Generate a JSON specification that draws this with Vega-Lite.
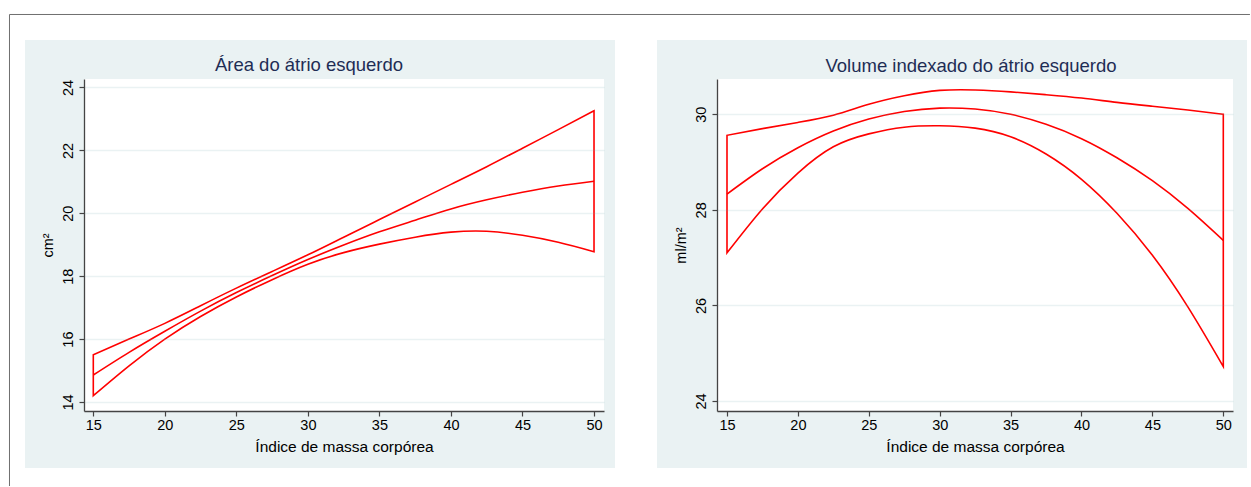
{
  "$schema": "https://vega.github.io/schema/vega-lite/v6.json",
  "padding": {"left": 8, "top": 13, "right": 0, "bottom": 0},
  "background": "white",
  "bounds": "flush",
  "spacing": 113,
  "datasets": {
    "aae": [
      {"imc": 15, "inferior": 14.20, "ajuste": 14.86, "superior": 15.50},
      {"imc": 17.5, "inferior": 15.15, "ajuste": 15.58, "superior": 16.00},
      {"imc": 20, "inferior": 16.00, "ajuste": 16.25, "superior": 16.50},
      {"imc": 22.5, "inferior": 16.72, "ajuste": 16.89, "superior": 17.06},
      {"imc": 25, "inferior": 17.34, "ajuste": 17.48, "superior": 17.62},
      {"imc": 27.5, "inferior": 17.89, "ajuste": 18.02, "superior": 18.15},
      {"imc": 30, "inferior": 18.38, "ajuste": 18.53, "superior": 18.68},
      {"imc": 32.5, "inferior": 18.75, "ajuste": 18.99, "superior": 19.24},
      {"imc": 35, "inferior": 19.02, "ajuste": 19.41, "superior": 19.80},
      {"imc": 37.5, "inferior": 19.24, "ajuste": 19.78, "superior": 20.36},
      {"imc": 40, "inferior": 19.40, "ajuste": 20.14, "superior": 20.92},
      {"imc": 42.5, "inferior": 19.43, "ajuste": 20.43, "superior": 21.48},
      {"imc": 45, "inferior": 19.30, "ajuste": 20.67, "superior": 22.07},
      {"imc": 47.5, "inferior": 19.08, "ajuste": 20.87, "superior": 22.66},
      {"imc": 50, "inferior": 18.78, "ajuste": 21.02, "superior": 23.26}
    ],
    "vie": [
      {"imc": 15, "inferior": 27.10, "ajuste": 28.33, "superior": 29.56},
      {"imc": 17.5, "inferior": 28.02, "ajuste": 28.86, "superior": 29.70},
      {"imc": 20, "inferior": 28.77, "ajuste": 29.30, "superior": 29.83},
      {"imc": 22.5, "inferior": 29.32, "ajuste": 29.65, "superior": 29.98},
      {"imc": 25, "inferior": 29.59, "ajuste": 29.90, "superior": 30.21},
      {"imc": 27.5, "inferior": 29.73, "ajuste": 30.06, "superior": 30.39},
      {"imc": 30, "inferior": 29.76, "ajuste": 30.13, "superior": 30.50},
      {"imc": 32.5, "inferior": 29.71, "ajuste": 30.11, "superior": 30.51},
      {"imc": 35, "inferior": 29.53, "ajuste": 30.00, "superior": 30.47},
      {"imc": 37.5, "inferior": 29.17, "ajuste": 29.79, "superior": 30.41},
      {"imc": 40, "inferior": 28.64, "ajuste": 29.49, "superior": 30.34},
      {"imc": 42.5, "inferior": 27.93, "ajuste": 29.09, "superior": 30.25},
      {"imc": 45, "inferior": 27.05, "ajuste": 28.61, "superior": 30.17},
      {"imc": 47.5, "inferior": 25.97, "ajuste": 28.03, "superior": 30.09},
      {"imc": 50, "inferior": 24.72, "ajuste": 27.36, "superior": 30.00}
    ]
  },
  "hconcat": [
    {
      "width": 520,
      "height": 332,
      "title": {"text": "Área do átrio esquerdo", "dx": -35, "offset": -61},
      "layer": [
        {
          "data": {"values": [{}]},
          "mark": {"type": "rect", "color": "#EAF2F3"},
          "encoding": {
            "x": {"datum": 10.226, "type": "quantitative", "axis": {"zindex": 1, "values": [15, 20, 25, 30, 35, 40, 45, 50], "title": "Índice de massa corpórea", "grid": false}},
            "x2": {"datum": 51.467},
            "y": {"datum": 25.51, "type": "quantitative", "axis": {"zindex": 1, "values": [14, 16, 18, 20, 22, 24], "title": "cm²", "grid": true}},
            "y2": {"datum": 11.902}
          }
        },
        {
          "data": {"values": [{}]},
          "mark": {"type": "rect", "color": "#FFFFFF"},
          "encoding": {
            "x": {"datum": 14.35, "type": "quantitative", "axis": {"zindex": 1, "values": [15, 20, 25, 30, 35, 40, 45, 50], "title": "Índice de massa corpórea", "grid": false}},
            "x2": {"datum": 50.698},
            "y": {"datum": 24.27, "type": "quantitative", "axis": {"zindex": 1, "values": [14, 16, 18, 20, 22, 24], "title": "cm²", "grid": true}},
            "y2": {"datum": 13.714}
          }
        },
        {
          "data": {"values": [{}]},
          "mark": {"type": "rule", "color": "#707070", "strokeWidth": 1},
          "encoding": {
            "x": {"datum": 9.142, "type": "quantitative", "axis": {"zindex": 1, "values": [15, 20, 25, 30, 35, 40, 45, 50], "title": "Índice de massa corpórea", "grid": false}},
            "x2": {"datum": 95.85},
            "y": {"datum": 26.321, "type": "quantitative", "axis": {"zindex": 1, "values": [14, 16, 18, 20, 22, 24], "title": "cm²", "grid": true}}
          }
        },
        {
          "data": {"values": [{}]},
          "mark": {"type": "rule", "color": "#707070", "strokeWidth": 1},
          "encoding": {
            "x": {"datum": 9.142, "type": "quantitative", "axis": {"zindex": 1, "values": [15, 20, 25, 30, 35, 40, 45, 50], "title": "Índice de massa corpórea", "grid": false}},
            "y": {"datum": 26.321, "type": "quantitative", "axis": {"zindex": 1, "values": [14, 16, 18, 20, 22, 24], "title": "cm²", "grid": true}},
            "y2": {"datum": 11.329}
          }
        },
        {
          "data": {"name": "aae"},
          "mark": {"type": "area", "interpolate": "natural", "fillOpacity": 0, "stroke": "#FF0000", "strokeWidth": 1.6, "color": "#FF0000"},
          "encoding": {
            "x": {"field": "imc", "type": "quantitative",
              "scale": {"domain": [14.35, 50.698], "nice": false, "zero": false},
              "axis": {"zindex": 1, "values": [15, 20, 25, 30, 35, 40, 45, 50], "title": "Índice de massa corpórea", "grid": false}},
            "y": {"field": "inferior", "type": "quantitative",
              "scale": {"domain": [13.714, 24.27], "nice": false, "zero": false},
              "axis": {"zindex": 1, "values": [14, 16, 18, 20, 22, 24], "title": "cm²", "grid": true}},
            "y2": {"field": "superior"}
          }
        },
        {
          "data": {"name": "aae"},
          "mark": {"type": "line", "interpolate": "natural", "color": "#FF0000", "strokeWidth": 1.6},
          "encoding": {
            "x": {"field": "imc", "type": "quantitative", "axis": {"zindex": 1, "values": [15, 20, 25, 30, 35, 40, 45, 50], "title": "Índice de massa corpórea", "grid": false}},
            "y": {"field": "ajuste", "type": "quantitative", "axis": {"zindex": 1, "values": [14, 16, 18, 20, 22, 24], "title": "cm²", "grid": true}}
          }
        }
      ]
    },
    {
      "width": 516,
      "height": 332,
      "title": {"text": "Volume indexado do átrio esquerdo", "dx": -4, "offset": -35},
      "layer": [
        {
          "data": {"values": [{}]},
          "mark": {"type": "rect", "color": "#EAF2F3"},
          "encoding": {
            "x": {"datum": 10.064, "type": "quantitative", "axis": {"zindex": 1, "values": [15, 20, 25, 30, 35, 40, 45, 50], "title": "Índice de massa corpórea", "grid": false}},
            "x2": {"datum": 51.671},
            "y": {"datum": 31.555, "type": "quantitative", "axis": {"zindex": 1, "values": [24, 26, 28, 30], "title": "ml/m²", "grid": true}},
            "y2": {"datum": 22.597}
          }
        },
        {
          "data": {"values": [{}]},
          "mark": {"type": "rect", "color": "#FFFFFF"},
          "encoding": {
            "x": {"datum": 14.295, "type": "quantitative", "axis": {"zindex": 1, "values": [15, 20, 25, 30, 35, 40, 45, 50], "title": "Índice de massa corpórea", "grid": false}},
            "x2": {"datum": 50.684},
            "y": {"datum": 30.739, "type": "quantitative", "axis": {"zindex": 1, "values": [24, 26, 28, 30], "title": "ml/m²", "grid": true}},
            "y2": {"datum": 23.79}
          }
        },
        {
          "data": {"name": "vie"},
          "mark": {"type": "area", "interpolate": "natural", "fillOpacity": 0, "stroke": "#FF0000", "strokeWidth": 1.6, "color": "#FF0000"},
          "encoding": {
            "x": {"field": "imc", "type": "quantitative",
              "scale": {"domain": [14.295, 50.684], "nice": false, "zero": false},
              "axis": {"zindex": 1, "values": [15, 20, 25, 30, 35, 40, 45, 50], "title": "Índice de massa corpórea", "grid": false}},
            "y": {"field": "inferior", "type": "quantitative",
              "scale": {"domain": [23.79, 30.739], "nice": false, "zero": false},
              "axis": {"zindex": 1, "values": [24, 26, 28, 30], "title": "ml/m²", "grid": true}},
            "y2": {"field": "superior"}
          }
        },
        {
          "data": {"name": "vie"},
          "mark": {"type": "line", "interpolate": "natural", "color": "#FF0000", "strokeWidth": 1.6},
          "encoding": {
            "x": {"field": "imc", "type": "quantitative", "axis": {"zindex": 1, "values": [15, 20, 25, 30, 35, 40, 45, 50], "title": "Índice de massa corpórea", "grid": false}},
            "y": {"field": "ajuste", "type": "quantitative", "axis": {"zindex": 1, "values": [24, 26, 28, 30], "title": "ml/m²", "grid": true}}
          }
        }
      ]
    }
  ],
  "config": {
    "view": {"stroke": null},
    "axis": {
      "labelFont": "Liberation Sans",
      "titleFont": "Liberation Sans",
      "labelFontSize": 14.5,
      "titleFontSize": 14.5,
      "titleFontWeight": "normal",
      "labelColor": "#000000",
      "titleColor": "#000000",
      "domainColor": "#444444",
      "domainWidth": 1.3,
      "tickColor": "#444444",
      "tickWidth": 1.2,
      "tickSize": 5,
      "gridColor": "#73A8AF",
      "gridOpacity": 0.15,
      "gridWidth": 1.5
    },
    "axisX": {"labelPadding": 2, "titlePadding": 8, "titleFontSize": 15.5, "labelFlush": false},
    "axisY": {"labelAngle": 270, "labelAlign": "center", "labelBaseline": "bottom", "labelPadding": 4, "titlePadding": 5, "labelFlush": false},
    "title": {
      "font": "Liberation Sans",
      "fontSize": 18.5,
      "fontWeight": "normal",
      "color": "#1E2D55",
      "anchor": "middle",
      "frame": "group",
      "baseline": "alphabetic"
    }
  }
}
